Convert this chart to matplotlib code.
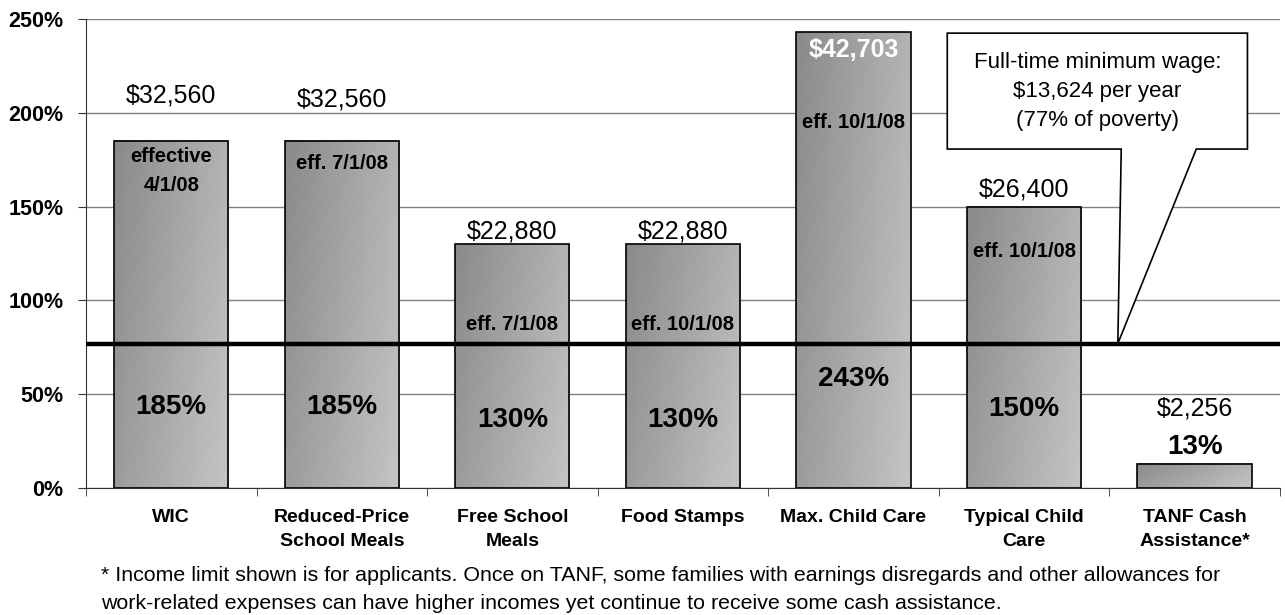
import numpy as np
import matplotlib
matplotlib.use("Agg")
import matplotlib.pyplot as plt
from matplotlib.patches import Polygon

plt.rcParams['font.family'] = ['Liberation Sans', 'DejaVu Sans']

programs = ["WIC", "Reduced-Price\nSchool Meals", "Free School\nMeals", "Food Stamps",
            "Max. Child Care", "Typical Child\nCare", "TANF Cash\nAssistance*"]
pct_poverty = [185, 185, 130, 130, 243, 150, 13]
dollar_labels = ["$32,560", "$32,560", "$22,880", "$22,880", "$42,703", "$26,400", "$2,256"]
dollar_y = [209, 207, 136.5, 136.5, 233.5, 159, 42.6]
pct_y = [43, 43, 36, 36, 58, 42, 22]
eff_labels = ["effective\n4/1/08", "eff. 7/1/08", "eff. 7/1/08", "eff. 10/1/08",
              "eff. 10/1/08", "eff. 10/1/08", ""]
eff_y = [169, 173, 87, 87, 195, 126, 0]
min_wage_pct = 77
callout_text = "Full-time minimum wage:\n$13,624 per year\n(77% of poverty)"
footnote = ("* Income limit shown is for applicants. Once on TANF, some families with earnings disregards and other allowances for\n"
            "work-related expenses can have higher incomes yet continue to receive some cash assistance.")

fig = plt.figure(figsize=(12.85, 6.15), dpi=100)
ax = fig.add_axes([0.0669, 0.2065, 0.9291, 0.7625])

x = np.arange(len(programs))
width = 0.67

# diagonal gradient: dark top-left -> light bottom-right
gx, gy = np.meshgrid(np.linspace(0, 1, 60), np.linspace(0, 1, 200))
grad = 0.7 * gx + 0.3 * gy  # row 0 is top in imshow (origin upper)

for i, v in enumerate(pct_poverty):
    ax.imshow(grad, extent=[x[i] - width / 2, x[i] + width / 2, 0, v], aspect='auto',
              cmap='gray', vmin=-2.35, vmax=2.0, zorder=2, interpolation='bilinear')
ax.bar(x, pct_poverty, width=width, facecolor='none', edgecolor='black', linewidth=1.2, zorder=3)

ax.set_xlim(-0.5, len(programs) - 0.5)
ax.set_ylim(0, 250)
ax.set_yticks(range(0, 251, 50))
ax.set_yticklabels([f"{t}%" for t in range(0, 251, 50)], fontsize=15.5, fontweight='bold')
ax.yaxis.grid(True, color='#808080', linewidth=1)
ax.set_axisbelow(True)

ax.set_xticks(x)
ax.set_xticklabels(programs, fontsize=14, fontweight='bold', linespacing=1.55)
ax.tick_params(axis='x', which='major', length=0, pad=15)
ax.set_xticks(np.arange(-0.5, len(programs)), minor=True)
ax.tick_params(axis='x', which='minor', length=6, color='#333333')
ax.tick_params(axis='y', length=6, color='#333333', pad=10)

for s in ['top', 'right']:
    ax.spines[s].set_visible(False)
ax.spines['left'].set_color('#333333')
ax.spines['bottom'].set_color('#333333')

# minimum wage line
ax.plot([-0.5, len(programs) - 0.5], [min_wage_pct, min_wage_pct], color='black', linewidth=3.2,
        zorder=5, clip_on=False, solid_capstyle='butt')

for i in range(len(programs)):
    col = 'white' if i == 4 else 'black'
    wt = 'bold' if i == 4 else 'normal'
    ax.text(x[i], dollar_y[i], dollar_labels[i], ha='center', va='center', fontsize=18,
            color=col, fontweight=wt, zorder=6)
    ax.text(x[i], pct_y[i], f"{pct_poverty[i]}%", ha='center', va='center', fontsize=20,
            fontweight='bold', zorder=6)
    if eff_labels[i]:
        ax.text(x[i], eff_y[i], eff_labels[i], ha='center', va='center', fontsize=14.5,
                fontweight='bold', zorder=6, linespacing=1.7)

# callout box with pointer to the minimum wage line
box_l, box_r, box_b, box_t = 4.55, 6.31, 180.7, 242.5
callout = Polygon([(box_l, box_t), (box_r, box_t), (box_r, box_b), (6.01, box_b),
                   (5.55, min_wage_pct), (5.57, box_b), (box_l, box_b)],
                  closed=True, facecolor='white', edgecolor='black', linewidth=1.2, zorder=7)
ax.add_patch(callout)
ax.text((box_l + box_r) / 2, (box_b + box_t) / 2, callout_text, ha='center', va='center',
        fontsize=16, linespacing=1.5, zorder=8)

fig.text(0.0786, 0.0415, footnote, ha='left', va='center', fontsize=15.4, linespacing=1.55)

fig.savefig("out.png", dpi=100)
